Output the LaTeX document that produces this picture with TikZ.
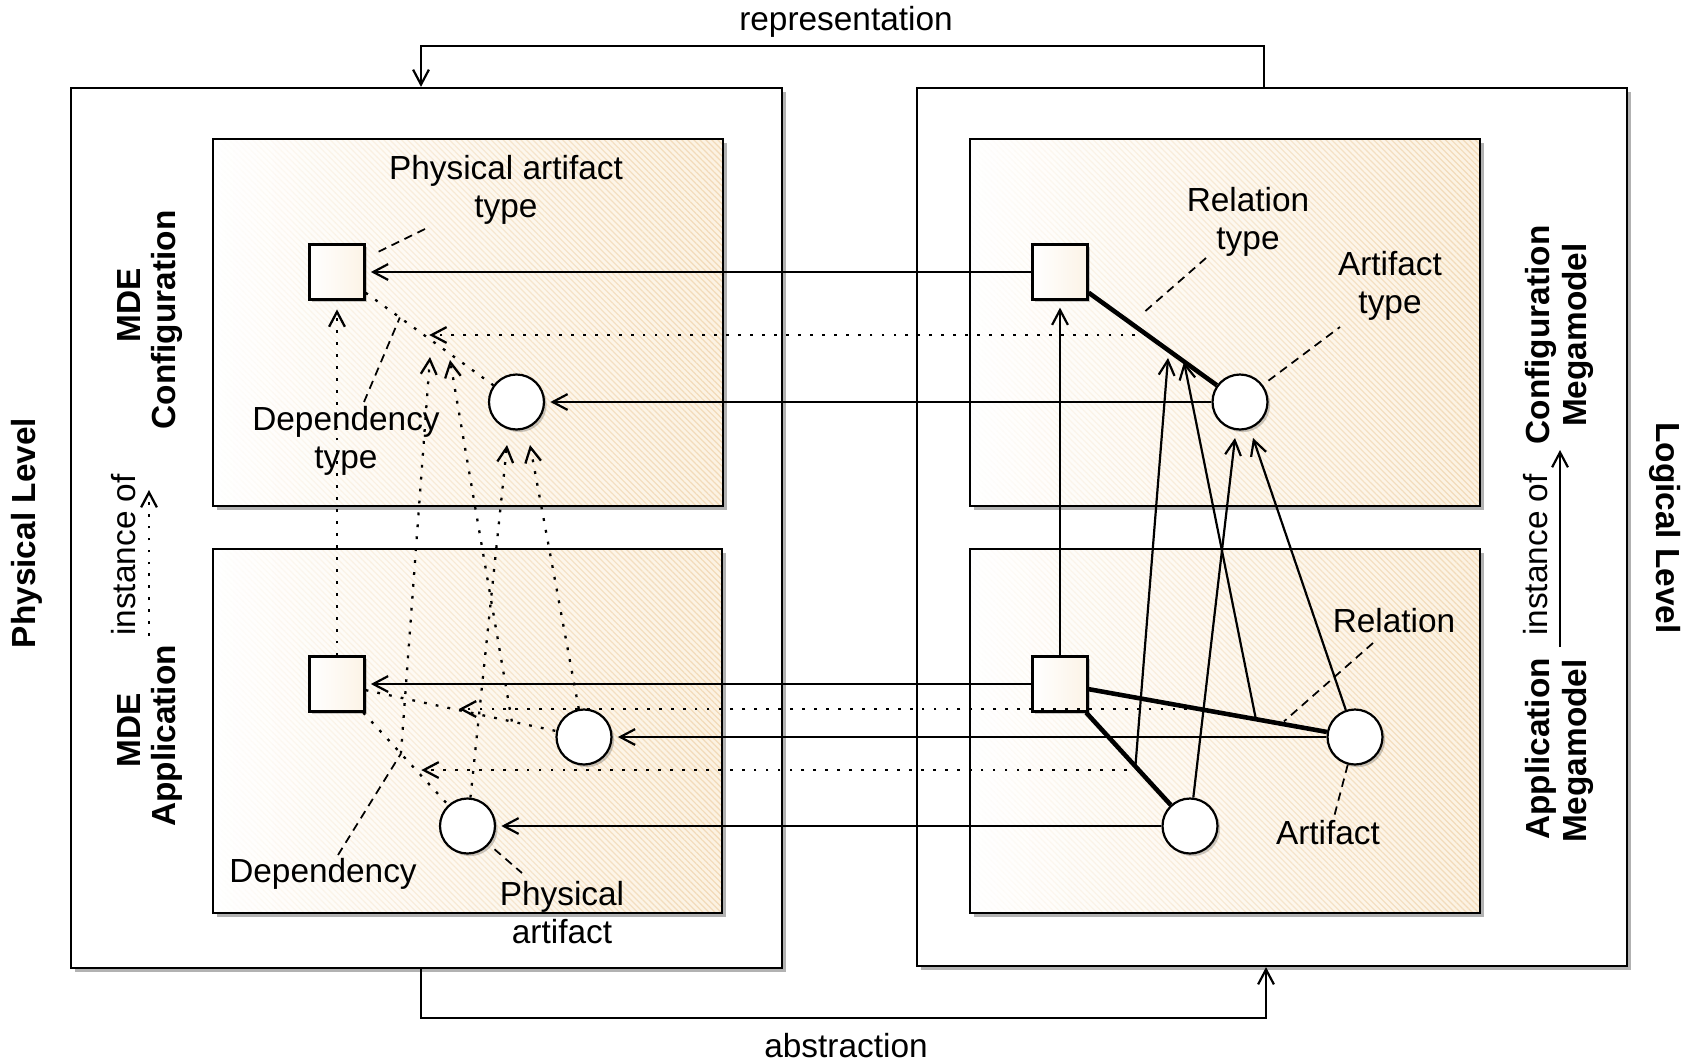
\documentclass[tikz,border=0pt]{standalone}
\usepackage{fontspec}
\setmainfont{Liberation Sans}
\usetikzlibrary{arrows.meta,calc,fit,shadows,patterns.meta,fadings}

\definecolor{peach}{RGB}{252,242,226}
\definecolor{stripe}{RGB}{242,218,184}
\definecolor{shapefill}{RGB}{252,243,230}

\tikzset{
  basefont/.style={font=\fontsize{19}{21.6}\selectfont},
  boldfont/.style={font=\fontsize{19}{21.6}\selectfont\bfseries},
  outerbox/.style={draw=black, line width=1.25pt, fill=white, inner sep=0pt,
    drop shadow={shadow xshift=2pt, shadow yshift=-2pt, fill=black, opacity=0.3}},
  panelbg/.style={inner sep=0pt, left color=white, right color=peach,
    drop shadow={shadow xshift=2pt, shadow yshift=-2pt, fill=black, opacity=0.3}},
  panelline/.style={draw=black, line width=1.25pt},
  sqshape/.style={rectangle, draw=black, line width=1.25pt, minimum size=1.1cm, inner sep=0pt,
    left color=white, right color=shapefill,
    drop shadow={shadow xshift=1.5pt, shadow yshift=-1.5pt, fill=black, opacity=0.2}},
  cishape/.style={circle, draw=black, line width=1.25pt, minimum size=1.1cm, inner sep=0pt,
    fill=white, drop shadow={shadow xshift=1.5pt, shadow yshift=-1.5pt, fill=black, opacity=0.2}},
  arr/.style={-{Straight Barb[length=8.5pt,width=9pt]}},
  conn/.style={line width=1.25pt},
  dotl/.style={line width=1.3pt, dash pattern=on 1.6pt off 5.2pt},
  leader/.style={line width=1pt, dash pattern=on 4.8pt off 3.4pt},
  relline/.style={line width=2.6pt},
  vlab/.style={boldfont, rotate=90, inner sep=0pt},
  lab/.style={basefont, align=center, inner sep=0pt},
}

\begin{document}
\begin{tikzpicture}[x=0.02cm, y=-0.02cm]
\useasboundingbox (0,0) rectangle (1690,1062);

% ---- level frames ----
\node[outerbox, fit={(71,88)(782,968)}] (phys) {};
\node[outerbox, fit={(917,88)(1627,966)}] (logi) {};

% ---- model panels ----
\node[panelbg, fit={(213,139)(723,506)}] (pconf) {};
\node[panelbg, fit={(213,549)(722,913)}] (papp) {};
\node[panelbg, fit={(970,139)(1480,506)}] (lconf) {};
\node[panelbg, fit={(970,549)(1480,913)}] (lapp) {};
\foreach \p in {pconf,papp,lconf,lapp}{
  \fill[pattern={Lines[angle=-45,distance=2.4pt,line width=0.7pt]}, pattern color=stripe,
        path fading=west] (\p.south west) rectangle (\p.north east);
  \draw[panelline] (\p.south west) rectangle (\p.north east);
}

% ---- elements ----
\node[sqshape] (sqPC) at (337,272) {};
\node[cishape] (ciPC) at (516.5,402) {};
\node[sqshape] (sqPA) at (337,684) {};
\node[cishape] (ciPA1) at (584,737) {};
\node[cishape] (ciPA2) at (467.5,826) {};
\node[sqshape] (sqLC) at (1060,272) {};
\node[cishape] (ciLC) at (1240,402) {};
\node[sqshape] (sqLA) at (1060,684) {};
\node[cishape] (ciLA1) at (1355,737) {};
\node[cishape] (ciLA2) at (1190,826) {};

% ---- relations (logical) and dependencies (physical) ----
\draw[relline] (sqLC) -- (ciLC);
\draw[relline] (sqLA) -- (ciLA1);
\draw[relline] (sqLA) -- (ciLA2);
\draw[dotl] (sqPC) -- (ciPC);
\draw[dotl] (sqPA) -- (ciPA1);
\draw[dotl] (sqPA) -- (ciPA2);

% points on the relation / dependency lines
\coordinate (rT)  at ($(sqLC)!0.4846!(ciLC)$);
\coordinate (dT)  at ($(sqPC)!0.4846!(ciPC)$);
\coordinate (rA1) at ($(sqLA)!0.472!(ciLA1)$);
\coordinate (dA1) at ($(sqPA)!0.472!(ciPA1)$);
\coordinate (rA2) at ($(sqLA)!0.606!(ciLA2)$);
\coordinate (dA2) at ($(sqPA)!0.606!(ciPA2)$);
\coordinate (sA1) at ($(sqPA)!0.708!(ciPA1)$);
\coordinate (sA2) at ($(sqPA)!0.49!(ciPA2)$);
\coordinate (tA1) at ($(sqLA)!0.664!(ciLA1)$);
\coordinate (tA2) at ($(sqLA)!0.58!(ciLA2)$);
\coordinate (dTl) at ($(sqPC)!0.35!(ciPC)$);
\coordinate (rA1l) at ($(sqLA)!0.75!(ciLA1)$);

% targets of the instance-of links
\coordinate (iT1) at (430,357);
\coordinate (iT2) at (450,360);
\coordinate (iC1) at (507,445);
\coordinate (iC2) at (530,445);
\coordinate (jT1) at (1168,358);
\coordinate (jT2) at (1184,362);
\coordinate (jC1) at (1235,438);
\coordinate (jC2) at (1253,438);

% ---- representation links (logical -> physical) ----
\draw[conn,arr,shorten >=3pt] (sqLC) -- (sqPC);
\draw[conn,arr,shorten >=3pt] (ciLC) -- (ciPC);
\draw[conn,arr,shorten >=3pt] (sqLA) -- (sqPA);
\draw[conn,arr,shorten >=3pt] (ciLA1) -- (ciPA1);
\draw[conn,arr,shorten >=3pt] (ciLA2) -- (ciPA2);
\draw[dotl,arr,shorten >=3pt] (rT) -- (dT);
\draw[dotl,arr,shorten >=3pt] (rA1) -- (dA1);
\draw[dotl,arr,shorten >=3pt] (rA2) -- (dA2);

% ---- instance-of links, physical level ----
\draw[dotl,arr,shorten >=5pt] (sqPA.north) -- (sqPC.south);
\draw[dotl,arr] (sA2) -- (iT1);
\draw[dotl,arr] (sA1) -- (iT2);
\draw[dotl,arr] (ciPA2) -- (iC1);
\draw[dotl,arr] (ciPA1) -- (iC2);

% ---- instance-of links, logical level ----
\draw[conn,arr,shorten >=4pt] (sqLA.north) -- (sqLC.south);
\draw[conn,arr] (tA2) -- (jT1);
\draw[conn,arr] (tA1) -- (jT2);
\draw[conn,arr] (ciLA2) -- (jC1);
\draw[conn,arr] (ciLA1) -- (jC2);

% ---- representation / abstraction between the levels ----
\coordinate (repR) at (1264,46);
\coordinate (repL) at (421,46);
\draw[conn,arr] (repR |- logi.north) -- (repR) -- (repL) -- (repL |- phys.north);
\node[lab] (repLab) at (846,22) {representation};
\coordinate (absL) at (421,1018);
\coordinate (absR) at (1266,1018);
\draw[conn,arr] (absL |- phys.south) -- (absL) -- (absR) -- (absR |- logi.south);
\node[lab] (absLab) at (846,1046) {abstraction};

% ---- element labels and their leaders ----
\node[lab] (lbPAT) at (506,190) {Physical artifact\\type};
\coordinate (lePAT) at (425,229);
\draw[leader,shorten >=5pt] (lePAT) -- (sqPC);

\node[lab] (lbDT) at (346,441) {Dependency\\type};
\coordinate (leDT) at (364,402);
\draw[leader] (leDT) -- (dTl);

\node[lab] (lbDep) at (323,874) {Dependency};
\coordinate (leDep) at (338,855);
\draw[leader] (leDep) -- (sA2);

\node[lab] (lbPA) at (562,913) {Physical\\artifact};
\coordinate (lePA) at (522,873);
\draw[leader,shorten <=4pt] (ciPA2) -- (lePA);

\node[lab] (lbRT) at (1248,222) {Relation\\type};
\coordinate (leRT1) at (1206,258);
\coordinate (leRT2) at (1142,314);
\draw[leader] (leRT1) -- (leRT2);

\node[lab] (lbAT) at (1390,286) {Artifact\\type};
\coordinate (leAT) at (1340,327);
\draw[leader,shorten <=4pt] (ciLC) -- (leAT);

\node[lab] (lbRel) at (1394,621) {Relation};
\coordinate (leRel) at (1373,643);
\draw[leader,shorten >=2pt] (leRel) -- (rA1l);

\node[lab] (lbArt) at (1328,833) {Artifact};
\coordinate (leArt) at (1334,817);
\draw[leader] (ciLA1) -- (leArt);

% ---- side captions, physical level ----
\node[vlab] (capPhys) at (27,533) {Physical Level};
\node[vlab] (capMDE1) at (129,305) {MDE};
\node[vlab] (capConf1) at (167,320) {Configuration};
\node[basefont, rotate=90, inner sep=0pt] (capInst1) at (124,555) {instance of};
\coordinate (ioL1) at (149,636);
\coordinate (ioL2) at (149,490);
\draw[dotl,arr] (ioL1) -- (ioL2);
\node[vlab] (capMDE2) at (129,730) {MDE};
\node[vlab] (capApp1) at (167,736) {Application};

% ---- side captions, logical level ----
\node[vlab] (capConf2) at (1541,335) {Configuration};
\node[vlab] (capMega1) at (1578,335) {Megamodel};
\node[basefont, rotate=90, inner sep=0pt] (capInst2) at (1536,555) {instance of};
\coordinate (ioR1) at (1560,647);
\coordinate (ioR2) at (1560,450);
\draw[conn,arr] (ioR1) -- (ioR2);
\node[vlab] (capApp2) at (1541,749) {Application};
\node[vlab] (capMega2) at (1578,751) {Megamodel};
\node[boldfont, rotate=-90, inner sep=0pt] (capLog) at (1665,528) {Logical Level};
\end{tikzpicture}
\end{document}
